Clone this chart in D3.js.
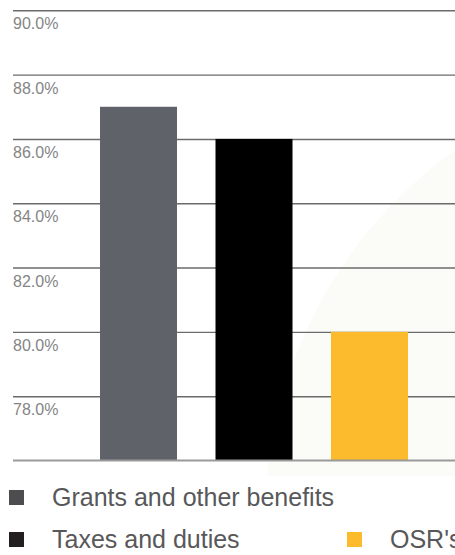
<!DOCTYPE html>
<html>
<head>
<meta charset="utf-8">
<script src="https://cdn.jsdelivr.net/npm/d3@7"></script>
<style>
  body { margin: 0; background: #fff; }
  svg { display: block; font-family: "Liberation Sans", Arial, Helvetica, sans-serif; }
</style>
</head>
<body>
<script>
  // data
  const categories = ["Grants and other benefits", "Taxes and duties", "OSR's"];
  const values = [87.0, 86.0, 80.0];
  const barColors = ["#5f6269", "#000000", "#fbbb2d"];
  const legendColors = ["#4d4d4f", "#231f20", "#fbbb2d"];
  const yTicks = [78, 80, 82, 84, 86, 88, 90];

  const w = 455, h = 555;
  const svg = d3.select("body").append("svg")
    .attr("width", w)
    .attr("height", h);

  // faint background shape
  svg.append("clipPath").attr("id", "bgclip")
    .append("rect").attr("x", 0).attr("y", 0).attr("width", w).attr("height", 476);
  svg.append("circle")
    .attr("clip-path", "url(#bgclip)")
    .attr("cx", 720).attr("cy", 520).attr("r", 455)
    .attr("fill", "#fbfbf8");

  const yScale = d3.scaleLinear()
    .domain([76, 90])
    .range([460.5, 10.3]);

  const xScale = d3.scaleBand()
    .domain(categories)
    .range([61.5, 446.5])
    .paddingInner(1 / 3)
    .paddingOuter(1 / 3);

  // gridlines
  const yAxis = d3.axisLeft(yScale)
    .tickValues(yTicks)
    .tickSize(-(w - 13))
    .tickFormat("");
  const gy = svg.append("g")
    .attr("transform", "translate(13,0)")
    .call(yAxis);
  gy.select(".domain").remove();
  gy.selectAll(".tick line")
    .attr("stroke", "#6b6b6b")
    .attr("stroke-width", 1.4);

  // bars
  svg.selectAll("rect.bar")
    .data(values)
    .enter()
    .append("rect")
    .attr("class", "bar")
    .attr("x", (d, i) => xScale(categories[i]))
    .attr("y", (d) => yScale(d))
    .attr("width", xScale.bandwidth())
    .attr("height", (d) => yScale(76) - yScale(d))
    .attr("fill", (d, i) => barColors[i]);

  // tick labels (under each line)
  svg.selectAll("text.ylab")
    .data(yTicks)
    .enter()
    .append("text")
    .attr("class", "ylab")
    .attr("x", 13)
    .attr("y", (d) => yScale(d) + 19)
    .attr("font-size", 16)
    .attr("fill", "#858585")
    .text((d) => d.toFixed(1) + "%");

  // baseline
  svg.append("line")
    .attr("x1", 13).attr("x2", w)
    .attr("y1", yScale(76)).attr("y2", yScale(76))
    .attr("stroke", "#9a9a9a")
    .attr("stroke-width", 2);

  // legend
  const legendPos = [[9, 490], [9, 532], [347, 532]];
  const lg = svg.selectAll("g.leg")
    .data(categories)
    .enter()
    .append("g")
    .attr("class", "leg")
    .attr("transform", (d, i) => "translate(" + legendPos[i][0] + "," + legendPos[i][1] + ")");
  lg.append("rect")
    .attr("width", 15).attr("height", 15)
    .attr("fill", (d, i) => legendColors[i]);
  lg.append("text")
    .attr("x", 43)
    .attr("y", 16)
    .attr("font-size", 25)
    .attr("fill", "#58585a")
    .text((d) => d);
</script>
</body>
</html>
